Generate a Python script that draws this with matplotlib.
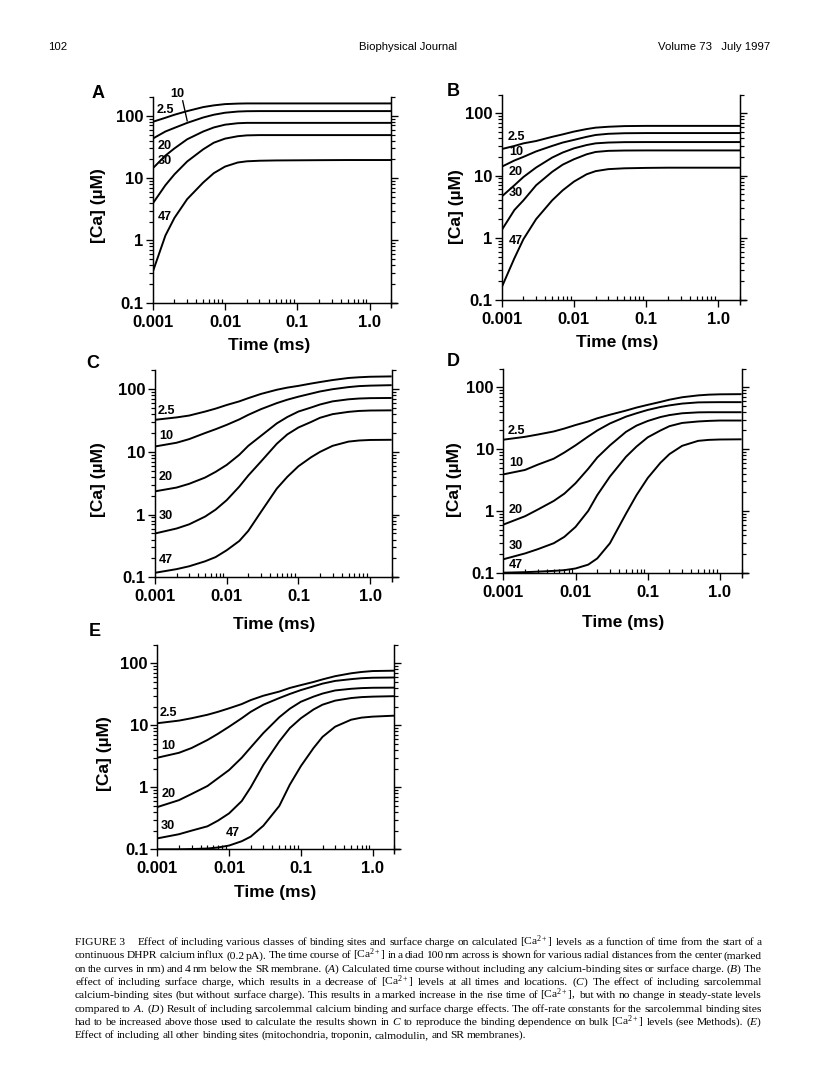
import matplotlib
matplotlib.use('Agg')
import matplotlib.pyplot as plt
from matplotlib.ticker import LogLocator, NullFormatter
import numpy as np

W, H, DPI = 816, 1078, 96

plt.rcParams['font.family'] = ['Liberation Sans', 'DejaVu Sans']
plt.rcParams['mathtext.fontset'] = 'custom'
plt.rcParams['mathtext.rm'] = 'Liberation Serif'
plt.rcParams['mathtext.it'] = 'Liberation Serif:italic'
plt.rcParams['mathtext.bf'] = 'Liberation Serif:bold'

# ---------------- data ----------------
distances = ['2.5', '10', '20', '30', '47']

t_AB = [0.001, 0.0015, 0.002, 0.003, 0.005, 0.007, 0.01, 0.015, 0.02, 0.03,
        0.05, 0.1, 0.2, 0.5, 1.0, 2.0]
t_CDE = [0.001, 0.002, 0.003, 0.005, 0.007, 0.01, 0.015, 0.02, 0.03, 0.05,
         0.07, 0.1, 0.15, 0.2, 0.3, 0.5, 0.7, 1.0, 2.0]

A_25 = [80, 93, 104, 119, 138, 147, 154, 157, 158, 158, 158, 158, 158, 158, 158, 158]
A_10 = [43, 56, 64, 77, 94, 104, 112, 117, 118.5, 119, 119, 119, 119, 119, 119, 119]
A_20 = [14.3, 23, 30, 42, 56, 65, 72, 76, 77, 77, 77, 77, 77, 77, 77, 77]
A_30 = [3.9, 7.7, 11.5, 18.5, 29, 37, 43, 47, 48.5, 49, 49, 49, 49, 49, 49, 49]
A_47 = [0.31, 1.2, 2.3, 4.6, 8.5, 12, 15.3, 17.8, 18.6, 19.0, 19.2, 19.3, 19.4, 19.5, 19.5, 19.5]

B_25 = [26.7, 30, 33, 36, 42, 46, 51, 56, 59, 61, 62.5, 63, 63, 63, 63, 63]
B_10 = [13.9, 17.5, 20, 24.5, 30, 34, 37.5, 42, 45, 47, 48, 48.3, 48.3, 48.3, 48.3, 48.3]
B_20 = [4.6, 7, 9.5, 13.5, 19.5, 23.5, 27.4, 31, 33, 34, 34.5, 34.6, 34.6, 34.6, 34.6, 34.6]
B_30 = [1.33, 2.8, 4.0, 7.0, 11.5, 15, 18.3, 22, 24, 25, 25.3, 25.4, 25.4, 25.4, 25.4, 25.4]
B_47 = [0.16, 0.47, 0.95, 2.0, 4.0, 5.8, 8.0, 10.5, 11.8, 12.7, 13.1, 13.3, 13.4, 13.4, 13.4, 13.4]

C_25 = [32.5, 35.5, 38, 44, 49, 56, 64, 72, 84, 98, 106, 113, 123, 130, 140, 151, 155, 158, 160]
C_10 = [12.2, 14, 16, 20, 23, 27, 33, 39, 48, 60, 68, 76, 85, 92, 100, 108, 112, 114, 116]
C_20 = [2.35, 2.7, 3.1, 3.9, 4.8, 6.2, 9, 12.5, 18, 28.5, 36, 44, 51, 57, 64, 69, 71, 72, 72.5]
C_30 = [0.5, 0.6, 0.7, 0.93, 1.2, 1.7, 2.8, 4.2, 7, 13.5, 19, 24.5, 30, 35, 40, 43.5, 45, 45.7, 46]
C_47 = [0.118, 0.135, 0.15, 0.18, 0.21, 0.27, 0.38, 0.55, 1.1, 2.6, 4.0, 5.9, 8.2, 10, 12.5, 14.6, 15.2, 15.5, 15.6]

D_25 = [14.2, 15.8, 17.2, 19.3, 21.5, 24.5, 28, 31.5, 36, 42, 47, 52, 58, 63, 69, 74, 76, 77, 77.5]
D_10 = [3.9, 4.6, 5.6, 7, 8.8, 11.5, 16, 20, 26, 33.5, 38, 43, 48, 51, 54.5, 57, 57.3, 57.5, 57.5]
D_20 = [0.6, 0.82, 1.05, 1.45, 1.9, 2.8, 4.8, 7.3, 11.5, 19, 24, 28.5, 33, 35.5, 38, 39.3, 39.5, 39.5, 39.5]
D_30 = [0.165, 0.205, 0.24, 0.3, 0.38, 0.55, 1.0, 1.8, 3.6, 7.5, 11, 15.5, 20, 23.5, 26.5, 28, 28.6, 29, 29]
D_47 = [0.1, 0.102, 0.104, 0.107, 0.11, 0.117, 0.135, 0.17, 0.3, 0.9, 1.8, 3.4, 6, 8.3, 11.3, 13.6, 14.1, 14.3, 14.4]

E_25 = [10.8, 11.9, 13, 14.8, 16.5, 18.8, 22, 25.5, 30, 35, 40, 44.5, 50, 55, 62, 69, 72.5, 75, 76]
E_10 = [3.0, 3.6, 4.3, 5.8, 7.3, 9.5, 13, 16.5, 21.5, 27.5, 32, 37, 42.5, 47, 52, 55.5, 57.5, 58.5, 59]
E_20 = [0.48, 0.62, 0.78, 1.05, 1.4, 1.9, 3.0, 4.4, 7.5, 13.5, 18.5, 24, 29, 32.5, 36.5, 38.8, 39.8, 40.3, 40.5]
E_30 = [0.15, 0.175, 0.2, 0.235, 0.29, 0.38, 0.6, 1.0, 2.3, 5.5, 9, 13, 18, 21.5, 25, 27.5, 28.5, 29, 29.5]
E_47 = [0.1, 0.1, 0.101, 0.103, 0.107, 0.115, 0.135, 0.16, 0.24, 0.5, 1.1, 2.2, 4.3, 6.5, 9.5, 12.3, 13.3, 13.8, 14.3]

x_ticks = [0.001, 0.01, 0.1, 1.0]
x_ticklabels = ['0.001', '0.01', '0.1', '1.0']
y_ticks = [0.1, 1, 10, 100]
y_ticklabels = ['0.1', '1', '10', '100']
panel_letters = ['A', 'B', 'C', 'D', 'E']

header_left = '102'
header_center = 'Biophysical Journal'
header_right = 'Volume 73   July 1997'

caption_lines = [
    'FIGURE 3|Effect of including various classes of binding sites and surface charge on calculated [Ca$^{2+}$] levels as a function of time from the start of a',
    'continuous DHPR calcium influx (0.2 pA). The time course of [Ca$^{2+}$] in a diad 100 nm across is shown for various radial distances from the center (marked',
    'on the curves in nm) and 4 nm below the SR membrane. ($\\mathit{A}$) Calculated time course without including any calcium-binding sites or surface charge. ($\\mathit{B}$) The',
    'effect of including surface charge, which results in a decrease of [Ca$^{2+}$] levels at all times and locations. ($\\mathit{C}$) The effect of including sarcolemmal',
    'calcium-binding sites (but without surface charge). This results in a marked increase in the rise time of [Ca$^{2+}$], but with no change in steady-state levels',
    'compared to $\\mathit{A}$. ($\\mathit{D}$) Result of including sarcolemmal calcium binding and surface charge effects. The off-rate constants for the sarcolemmal binding sites',
    'had to be increased above those used to calculate the results shown in $\\mathit{C}$ to reproduce the binding dependence on bulk [Ca$^{2+}$] levels (see Methods). ($\\mathit{E}$)',
    'Effect of including all other binding sites (mitochondria, troponin, calmodulin, and SR membranes).',
]

# ---------------- layout (pixels) ----------------
geom = {
    'A': (152.7, 72.3, 302.7, 62.3),
    'B': (501.7, 72.2, 300.0, 62.2),
    'C': (155.0, 71.7, 577.3, 62.7),
    'D': (503.3, 72.2, 572.7, 61.8),
    'E': (157.3, 71.8, 849.3, 62.0),
}
letter_pos = {'A': (98, 93), 'B': (453, 91), 'C': (93, 363), 'D': (453, 362), 'E': (95, 632)}
ylabel_pos = {'A': (99, 206), 'B': (457, 207), 'C': (99, 480), 'D': (454, 480), 'E': (104, 754)}
xlabel_pos = {'A': (269, 346), 'B': (617, 343), 'C': (274, 624), 'D': (623, 622), 'E': (275, 892)}
label_pos = {
    'A': [(0.00148, 126), (0.00219, 223), (0.00148, 32.6), (0.00148, 19), (0.00148, 2.4)],
    'B': [(0.00158, 42), (0.00158, 24.2), (0.00158, 11.5), (0.00158, 5.2), (0.00158, 0.89)],
    'C': [(0.00142, 45), (0.00142, 18.2), (0.00142, 3.95), (0.00142, 0.96), (0.00142, 0.19)],
    'D': [(0.0015, 19.9), (0.0015, 6.0), (0.0015, 1.05), (0.0015, 0.27), (0.0015, 0.131)],
    'E': [(0.00142, 16), (0.00142, 4.65), (0.00142, 0.78), (0.00142, 0.24), (0.0114, 0.186)],
}

series = {
    'A': (t_AB, [A_25, A_10, A_20, A_30, A_47]),
    'B': (t_AB, [B_25, B_10, B_20, B_30, B_47]),
    'C': (t_CDE, [C_25, C_10, C_20, C_30, C_47]),
    'D': (t_CDE, [D_25, D_10, D_20, D_30, D_47]),
    'E': (t_CDE, [E_25, E_10, E_20, E_30, E_47]),
}

fig = plt.figure(figsize=(W / DPI, H / DPI), dpi=DPI)
fig.patch.set_facecolor('white')

XMIN, XMAX, YMIN, YMAX = 0.001, 2.0, 0.1, 200.0
ndx = np.log10(XMAX / XMIN)
ndy = np.log10(YMAX / YMIN)


def fx(px):
    return px / W


def fy(py):
    return 1 - py / H


for key in panel_letters:
    x0, dx, y0, dy = geom[key]
    axw, axh = ndx * dx, ndy * dy
    ax = fig.add_axes([x0 / W, 1 - y0 / H, axw / W, axh / H])
    t, curves = series[key]
    for vals in curves:
        ax.plot(t, vals, color='black', lw=1.45, solid_capstyle='butt')
    ax.set_xscale('log')
    ax.set_yscale('log')
    ax.set_xlim(XMIN, XMAX)
    ax.set_ylim(YMIN, YMAX)
    ax.spines['top'].set_visible(False)
    for s in ['left', 'right', 'bottom']:
        ax.spines[s].set_linewidth(1.1)
    # small overhangs of the frame lines seen in the original
    ax.plot([1, 1 + 6 / axw], [0, 0], transform=ax.transAxes, color='black',
            lw=1.1, clip_on=False, solid_capstyle='butt')
    ax.plot([1, 1], [0, -5 / axh], transform=ax.transAxes, color='black',
            lw=1.1, clip_on=False, solid_capstyle='butt')
    ax.set_xticks(x_ticks)
    ax.set_xticklabels(x_ticklabels, fontsize=12.5, fontweight='bold')
    ax.set_yticks(y_ticks)
    ax.set_yticklabels(y_ticklabels, fontsize=12.5, fontweight='bold')
    ax.xaxis.set_minor_locator(LogLocator(base=10, subs=np.arange(2, 10), numticks=100))
    ax.yaxis.set_minor_locator(LogLocator(base=10, subs=np.arange(2, 10), numticks=100))
    ax.xaxis.set_minor_formatter(NullFormatter())
    ax.yaxis.set_minor_formatter(NullFormatter())
    ax.tick_params(axis='x', which='major', direction='out', length=5, width=1.0, pad=4, top=False)
    ax.tick_params(axis='x', which='minor', direction='in', length=3, width=0.9, top=False)
    ax.tick_params(axis='y', which='major', direction='out', length=5, width=1.0, pad=2,
                   left=True, right=True)
    ax.tick_params(axis='y', which='minor', direction='out', length=3, width=0.9,
                   left=True, right=True)
    for (lt, lc), lab in zip(label_pos[key], distances):
        ax.text(lt, lc, lab, fontsize=9.5, fontweight='bold', ha='center', va='center',
                clip_on=False)
    if key == 'A':
        ax.plot([0.0026, 0.0030], [174, 83], color='black', lw=1.0, clip_on=False)

    lx, ly = letter_pos[key]
    fig.text(fx(lx), fy(ly), key, fontsize=13.5, fontweight='bold', ha='center', va='center')
    yx, yy = ylabel_pos[key]
    fig.text(fx(yx), fy(yy), '[Ca] (\u00b5M)', fontsize=13, fontweight='bold',
             rotation=90, ha='center', va='center')
    xx, xy = xlabel_pos[key]
    fig.text(fx(xx), fy(xy), 'Time (ms)', fontsize=13, fontweight='bold',
             ha='center', va='center')

# header
fig.text(fx(48), fy(47), header_left, fontsize=8.5, ha='left', va='center')
fig.text(fx(408), fy(47), header_center, fontsize=8.5, ha='center', va='center')
fig.text(fx(770), fy(47), header_right, fontsize=8.5, ha='right', va='center')

# caption, justified word by word
renderer = fig.canvas.get_renderer()
CAP_L, CAP_R = 75.0, 762.0
cap_y0, cap_dy = 945.0, 13.3
SPACE_EM = 0.2
EXTRA_EM = 0.9


def split_tokens(line):
    if '|' in line:
        head, rest = line.split('|')
        return [head] + rest.split(' '), 0
    return line.split(' '), None


# measure at a reference size, then pick the size giving normal word spacing
s0 = 10.0
sizes = []
for i, line in enumerate(caption_lines[:-1]):
    tokens, ea = split_tokens(line)
    w0 = 0.0
    for tok in tokens:
        tt = fig.text(0, 0, tok, fontsize=s0, family='Liberation Serif')
        w0 += tt.get_window_extent(renderer=renderer).width
        tt.remove()
    em_px_per_pt = DPI / 72.0
    nsp = (len(tokens) - 1) * SPACE_EM + (EXTRA_EM if ea is not None else 0)
    sizes.append((CAP_R - CAP_L) / (w0 / s0 + nsp * em_px_per_pt))
cap_size = float(np.median(sizes))

for i, line in enumerate(caption_lines):
    y = cap_y0 + i * cap_dy
    tokens, extra_after = split_tokens(line)
    extra = EXTRA_EM * cap_size * DPI / 72 if extra_after is not None else 0.0
    objs, widths = [], []
    for tok in tokens:
        tt = fig.text(0, fy(y), tok, fontsize=cap_size, family='Liberation Serif',
                      ha='left', va='baseline')
        objs.append(tt)
        widths.append(tt.get_window_extent(renderer=renderer).width)
    total = sum(widths)
    if i == len(caption_lines) - 1:
        gap = cap_size * DPI / 72 * SPACE_EM
    else:
        gap = (CAP_R - CAP_L - total - extra) / (len(tokens) - 1)
    x = CAP_L
    for j, (tt, w) in enumerate(zip(objs, widths)):
        tt.set_x(fx(x))
        x += w + gap
        if extra_after is not None and j == extra_after:
            x += extra

fig.savefig('out.png', dpi=DPI, facecolor='white')
